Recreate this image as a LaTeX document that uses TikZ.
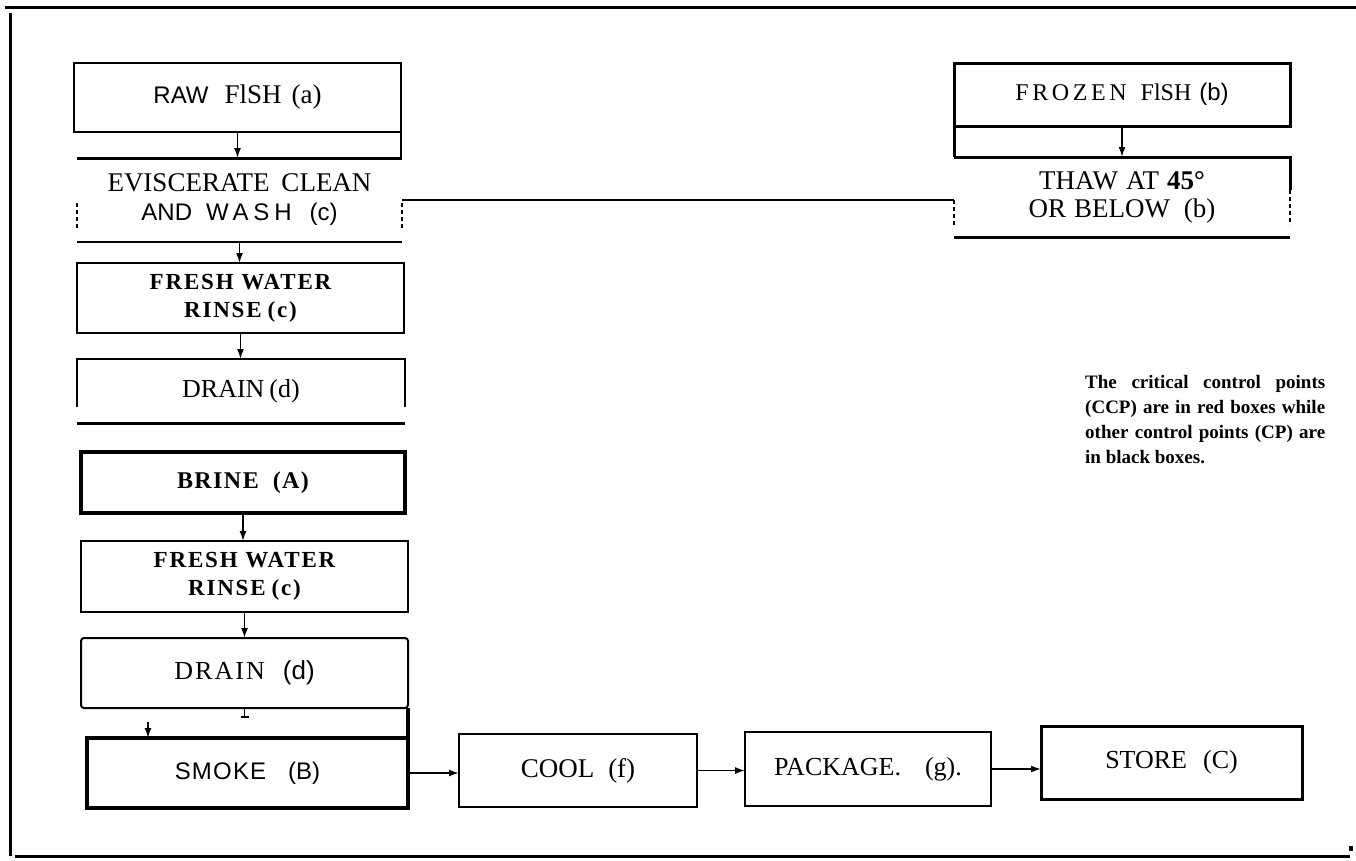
\documentclass[tikz,border=0pt]{standalone}
\usepackage{fontspec}
\setmainfont{Liberation Serif}
\newfontfamily\sansf{Liberation Sans}
\usetikzlibrary{arrows.meta,calc}
\newcommand{\fsz}[2]{\fontsize{#1}{#2}\selectfont}
\begin{document}
\begin{tikzpicture}[x=1pt,y=-1pt,
  box/.style={draw=none,inner sep=0pt,outer sep=0pt,align=center},
  ln/.style={line width=2pt},
  thk/.style={line width=3pt},
  ccp/.style={line width=3.6pt},
  frag/.style={line width=1.6pt,dash pattern=on 4pt off 3pt},
  arr/.style={line width=1.6pt,-{Latex[length=10pt,width=7pt]}},
  frame/.style={line width=3pt}
]
\useasboundingbox (0,0) rectangle (1356,860);
\fill[white] (0,0) rectangle (1356,860);

% frame
\draw[frame] (5,7) -- (1356,7);
\draw[frame] (10,13) -- (10,856);
\draw[frame] (15,856) -- (1350,856);
\fill (1349,846) rectangle (1353,851);

% nodes
\node[box,minimum width=327pt,minimum height=69pt] (raw) at (237.5,97.5)
  {{\sansf\fsz{24}{28}RAW}\hspace{16pt}{\fsz{27}{28}FlSH\hspace{10pt}(a)}};
\node[box,minimum width=325pt,minimum height=84pt,font=\fsz{27}{29}] (evis) at (239.5,200)
  {EVISCERATE\hspace{12pt}CLEAN\\{\sansf\fsz{24}{29}AND\hspace{14pt}{\addfontfeature{LetterSpace=20}WASH}\hspace{18pt}(c)}};
\node[box,minimum width=327pt,minimum height=70pt,font=\bfseries\fsz{23}{28}\addfontfeature{LetterSpace=8}] (rinse1) at (240.5,298)
  {FRESH WATER\\RINSE\hspace{6pt}(c)};
\node[box,minimum width=328pt,minimum height=64pt,font=\fsz{26}{28}] (drain1) at (241,391)
  {DRAIN\hspace{5pt}(d)};
\node[box,minimum width=324pt,minimum height=61pt,font=\bfseries\fsz{24}{28}\addfontfeature{LetterSpace=6}] (brine) at (243,482.5)
  {BRINE\hspace{14pt}(A)};
\node[box,minimum width=327pt,minimum height=71pt,font=\bfseries\fsz{23}{28}\addfontfeature{LetterSpace=8}] (rinse2) at (244.5,576.5)
  {FRESH WATER\\RINSE\hspace{6pt}(c)};
\node[box,minimum width=327pt,minimum height=70pt,font=\fsz{26}{28}] (drain2) at (244.5,673)
  {{\addfontfeature{LetterSpace=8}DRAIN}\hspace{18pt}{\sansf (d)}};
\node[box,minimum width=321pt,minimum height=70pt,font=\sansf\fsz{24}{28}] (smoke) at (247.5,773)
  {{\addfontfeature{LetterSpace=5}SMOKE}\hspace{22pt}(B)};
\node[box,minimum width=238pt,minimum height=73pt,font=\fsz{27}{28}] (cool) at (578,770.5)
  {COOL\hspace{14pt}(f)};
\node[box,minimum width=246pt,minimum height=74pt,font=\fsz{26}{28}] (pack) at (868,769)
  {PACKAGE.\hspace{24pt}(g).};
\node[box,minimum width=261pt,minimum height=73pt,font=\fsz{26}{28}] (store) at (1171.5,762.5)
  {STORE\hspace{16pt}(C)};
\node[box,minimum width=336pt,minimum height=63pt,font=\fsz{24}{28}] (frozen) at (1122,94.5)
  {{\addfontfeature{LetterSpace=15}FROZEN}\hspace{14pt}FlSH\hspace{8pt}{\sansf (b)}};
\node[box,minimum width=336pt,minimum height=80pt,font=\fsz{27}{28}] (thaw) at (1122,197)
  {THAW\hspace{8pt}AT\hspace{8pt}{\bfseries 45°}\\OR\hspace{8pt}BELOW\hspace{14pt}(b)};

\node[anchor=north west,inner sep=0pt,align=left,font=\bfseries\fsz{19}{25}] (legend) at (1085,375)
  {\makebox[240pt][s]{The critical control points}\\\makebox[240pt][s]{(CCP) are in red boxes while}\\\makebox[240pt][s]{other control points (CP) are}\\in black boxes.};

% outlines
\draw[ln] (raw.north west) rectangle (raw.south east);
\draw[ln] (raw.south east) -- (raw.south east |- evis.north);
\draw[thk] (evis.north west) -- (evis.north east);
\draw[ln] (evis.south west) -- (evis.south east);
\draw[frag] ($(evis.west)+(0,3)$) -- ($(evis.west)+(0,28)$);
\draw[frag] ($(evis.east)+(0,3)$) -- ($(evis.east)+(0,28)$);
\draw[ln] (rinse1.north west) rectangle (rinse1.south east);
\draw[ln] ($(drain1.north west)+(0,48)$) -- (drain1.north west) -- (drain1.north east) -- ($(drain1.north east)+(0,48)$);
\draw[thk] (drain1.south west) -- (drain1.south east);
\draw[ccp] (brine.north west) rectangle (brine.south east);
\draw[ln] (rinse2.north west) rectangle (rinse2.south east);
\draw[ln,rounded corners=3pt] (drain2.north west) rectangle (drain2.south east);
\draw[ccp] (smoke.north west) rectangle (smoke.south east);
\draw[ccp] (smoke.north east) -- (smoke.north east |- drain2.south);
\draw[line width=1.5pt] (drain2.south) -- ++(0,9) ++(-4,0) -- ++(8,0);
\draw[ln] (cool.north west) rectangle (cool.south east);
\draw[ln] (pack.north west) rectangle (pack.south east);
\draw[thk] (store.north west) rectangle (store.south east);
\draw[thk] (frozen.north west) rectangle (frozen.south east);
\draw[thk] (frozen.south west) -- (thaw.north west);
\draw[thk] (thaw.north west) -- (thaw.north east) -- ($(thaw.north east)+(0,33)$);
\draw[thk] (thaw.south west) -- (thaw.south east);
\draw[frag] ($(thaw.west)+(0,3)$) -- ($(thaw.west)+(0,28)$);
\draw[frag] ($(thaw.north east)+(0,33)$) -- ($(thaw.north east)+(0,68)$);

% connectors
\draw[arr] (raw.south) -- (raw.south |- evis.north);
\draw[ln] (evis.east) -- (evis.east -| thaw.west);
\draw[arr] (evis.south) -- (evis.south |- rinse1.north);
\draw[arr] (rinse1.south) -- (rinse1.south |- drain1.north);
\draw[arr] (brine.south) -- (brine.south |- rinse2.north);
\draw[arr] (rinse2.south) -- (rinse2.south |- drain2.north);
\draw[arr] ($(smoke.north west)+(61,-16)$) -- ($(smoke.north west)+(61,0)$);
\draw[arr] (smoke.east) -- (smoke.east -| cool.west);
\draw[arr] (cool.east) -- (cool.east -| pack.west);
\draw[arr] (pack.east) -- (pack.east -| store.west);
\draw[arr] (frozen.south) -- (frozen.south |- thaw.north);
\end{tikzpicture}
\end{document}
